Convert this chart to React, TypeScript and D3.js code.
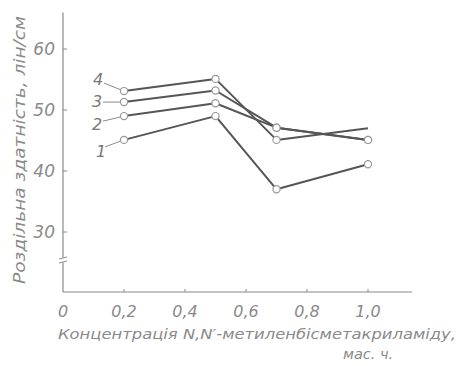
import React from "react";
import * as d3 from "d3";

const xValues = [0.2, 0.5, 0.7, 1.0];
const series1 = [45.1, 49.0, 37.0, 41.1];
const series2 = [49.0, 51.1, 47.1, 45.1];
const series3 = [51.3, 53.2, 47.1, 45.1];
const series4 = [53.1, 55.1, 45.1, 47.0];
const seriesLabels = ["1", "2", "3", "4"];
const xTicks = [0, 0.2, 0.4, 0.6, 0.8, 1.0];
const xTickLabels = ["0", "0,2", "0,4", "0,6", "0,8", "1,0"];
const yTicks = [30, 40, 50, 60];
const yTitle = "Роздільна здатність, лін/см";
const xTitle1 = "Концентрація N,N′-метиленбісметакриламіду,";
const xTitle2 = "мас. ч.";

const W = 464, H = 366;
const ink = "#555";
const txt = "#8a8a8a";
const font = "'DejaVu Sans', sans-serif";

export default function App() {
  const x = d3.scaleLinear().domain([0, 1]).range([63, 368]);
  const y = d3.scaleLinear().domain([20, 60]).range([293, 49]);
  const axisX0 = x(0), axisY0 = 292;
  const axisTop = y(66);
  const axisRight = x(1.144);
  const line = d3.line<[number, number]>().x(d => x(d[0])).y(d => y(d[1]));
  const all = [series1, series2, series3, series4];
  const labelOffsets = [
    { dx: -23, dy: 12, lx: -19, ly: 7 },
    { dx: -27, dy: 9, lx: -21, ly: 5 },
    { dx: -27, dy: 0, lx: -21, ly: 0 },
    { dx: -26, dy: -11, lx: -20, ly: -8 },
  ];
  const yBreak = 260;
  return (
    <svg width={W} height={H} style={{ position: "absolute", left: 0, top: 0, background: "#fff" }}>
      <line x1={axisX0} x2={axisX0} y1={axisTop} y2={axisY0} stroke={txt} strokeWidth={1.2} />
      <line x1={axisX0} x2={axisRight} y1={axisY0} y2={axisY0} stroke={txt} strokeWidth={1.2} />
      <rect x={axisX0 - 1} y={yBreak - 2.5} width={2} height={5} fill="#fff" />
      <path d={`M${axisX0 - 4},${yBreak - 1} L${axisX0 + 4},${yBreak - 3}`} stroke={txt} strokeWidth={1} />
      <path d={`M${axisX0 - 4},${yBreak + 3} L${axisX0 + 4},${yBreak + 1}`} stroke={txt} strokeWidth={1} />
      {yTicks.map(t => (
        <g key={t}>
          <line x1={axisX0} x2={axisX0 + 4} y1={y(t)} y2={y(t)} stroke={txt} strokeWidth={1} />
          <text x={axisX0 - 8} y={y(t) + 6} textAnchor="end" fontSize={17} fontStyle="italic" fill={txt}
            fontFamily={font}>{t}</text>
        </g>
      ))}
      {xTicks.map((t, i) => (
        <g key={t}>
          {i > 0 && <line x1={x(t)} x2={x(t)} y1={axisY0} y2={axisY0 - 3} stroke={txt} strokeWidth={1} />}
          <text x={x(t)} y={axisY0 + 25} textAnchor="middle" fontSize={16} fontStyle="italic"
            fill={txt} fontFamily={font}>{xTickLabels[i]}</text>
        </g>
      ))}
      <text transform={`translate(25,${150}) rotate(-90)`} textAnchor="middle" fontSize={15.5} fontStyle="italic"
        fill={txt} fontFamily={font} textLength={268} lengthAdjust="spacingAndGlyphs">{yTitle}</text>
      <text x={58} y={339} fontSize={14.5} fontStyle="italic" fill={txt} fontFamily={font}
        textLength={398} lengthAdjust="spacingAndGlyphs">{xTitle1}</text>
      <text x={343} y={359} fontSize={14.5} fontStyle="italic" fill={txt} fontFamily={font}>{xTitle2}</text>
      {all.map((s, si) => {
        const pts = xValues.map((xv, i) => [xv, s[i]] as [number, number]);
        return (
          <g key={si}>
            <path d={line(pts) || ""} fill="none" stroke={ink} strokeWidth={2} strokeLinejoin="round" />
            {pts.map((p, i) => (si === 3 && i === 3) ? null : (
              <circle key={i} cx={x(p[0])} cy={y(p[1])} r={3.6} fill="#fff" stroke="#999" strokeWidth={1.2} />
            ))}
          </g>
        );
      })}
      {all.map((s, si) => {
        const px = x(xValues[0]), py = y(s[0]);
        const o = labelOffsets[si];
        return (
          <g key={"l" + si}>
            <line x1={px - 4} y1={py + o.ly * 0.2} x2={px + o.lx} y2={py + o.ly} stroke={txt} strokeWidth={1} />
            <text x={px + o.dx} y={py + o.dy + 5} textAnchor="middle" fontSize={16} fontStyle="italic"
              fill="#777" fontFamily={font}>{seriesLabels[si]}</text>
          </g>
        );
      })}
    </svg>
  );
}
